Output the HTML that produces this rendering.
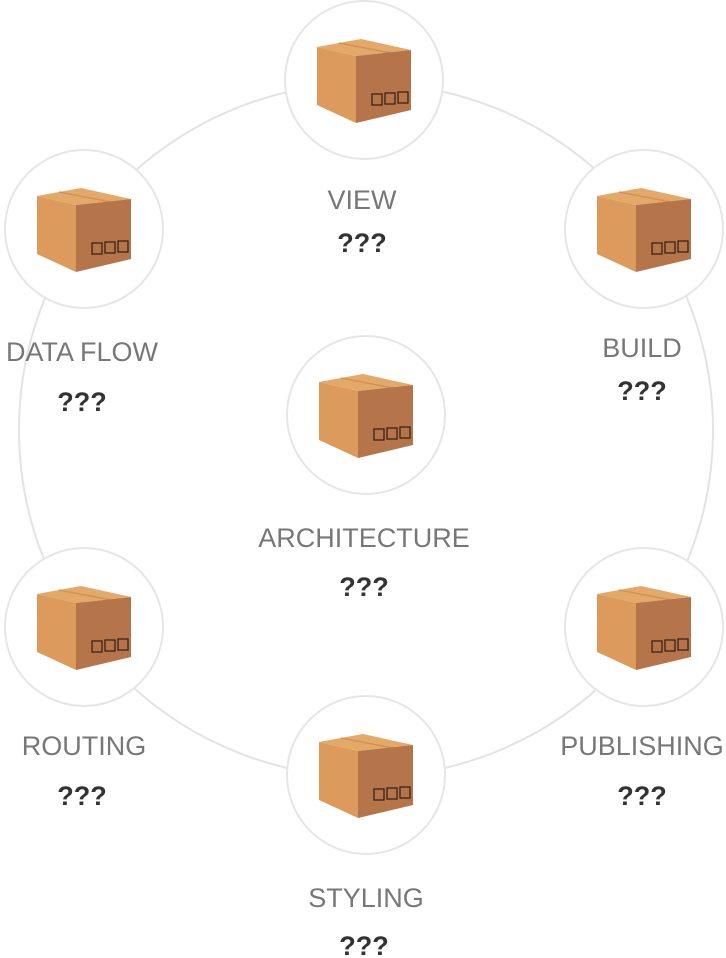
<!DOCTYPE html>
<html><head><meta charset="utf-8"><style>
html,body{margin:0;padding:0;background:#fff;width:726px;height:958px;overflow:hidden}
text{font-family:"Liberation Sans",sans-serif;text-anchor:middle}
.l{fill:#777;font-size:27px}
.q{fill:#333;font-size:27px;font-weight:bold}
</style></head><body>
<svg width="726" height="958" viewBox="0 0 726 958" xmlns="http://www.w3.org/2000/svg">
<defs>
<g id="b">
<circle r="79" fill="#fff" stroke="#e6e6e6" stroke-width="2"/>
<polygon points="-47,-33 -3,-41 47,-30 -8,-24" fill="#e4a868"/>
<line x1="-25" y1="-37" x2="27" y2="-27" stroke="#cf9357" stroke-width="1.5"/>
<polygon points="-47,-33 -8,-24 -8,43 -47,25" fill="#dc9b5c"/>
<polygon points="-8,-24 47,-30 47,30 -8,43" fill="#b5744a"/>
<g fill="none" stroke="#3a2416" stroke-width="1.3">
<rect x="8" y="14" width="10" height="11"/><rect x="21" y="13" width="10" height="11"/><rect x="34" y="12" width="10" height="11"/>
</g>
</g>
</defs>
<circle cx="366" cy="430" r="347" fill="none" stroke="#e3e3e3" stroke-width="2"/>
<use href="#b" x="364" y="80"/>
<use href="#b" x="84" y="229"/>
<use href="#b" x="644" y="229"/>
<use href="#b" x="366" y="415"/>
<use href="#b" x="84" y="627"/>
<use href="#b" x="644" y="627"/>
<use href="#b" x="366" y="775"/>
<text class="l" x="362" y="209">VIEW</text><text class="q" x="362" y="252">???</text>
<text class="l" x="82" y="361">DATA FLOW</text><text class="q" x="82" y="411">???</text>
<text class="l" x="642" y="357">BUILD</text><text class="q" x="642" y="400">???</text>
<text class="l" x="364" y="547">ARCHITECTURE</text><text class="q" x="364" y="596">???</text>
<text class="l" x="84" y="755">ROUTING</text><text class="q" x="82" y="805">???</text>
<text class="l" x="642" y="755">PUBLISHING</text><text class="q" x="642" y="805">???</text>
<text class="l" x="366" y="907">STYLING</text><text class="q" x="364" y="955">???</text>
</svg>
</body></html>
